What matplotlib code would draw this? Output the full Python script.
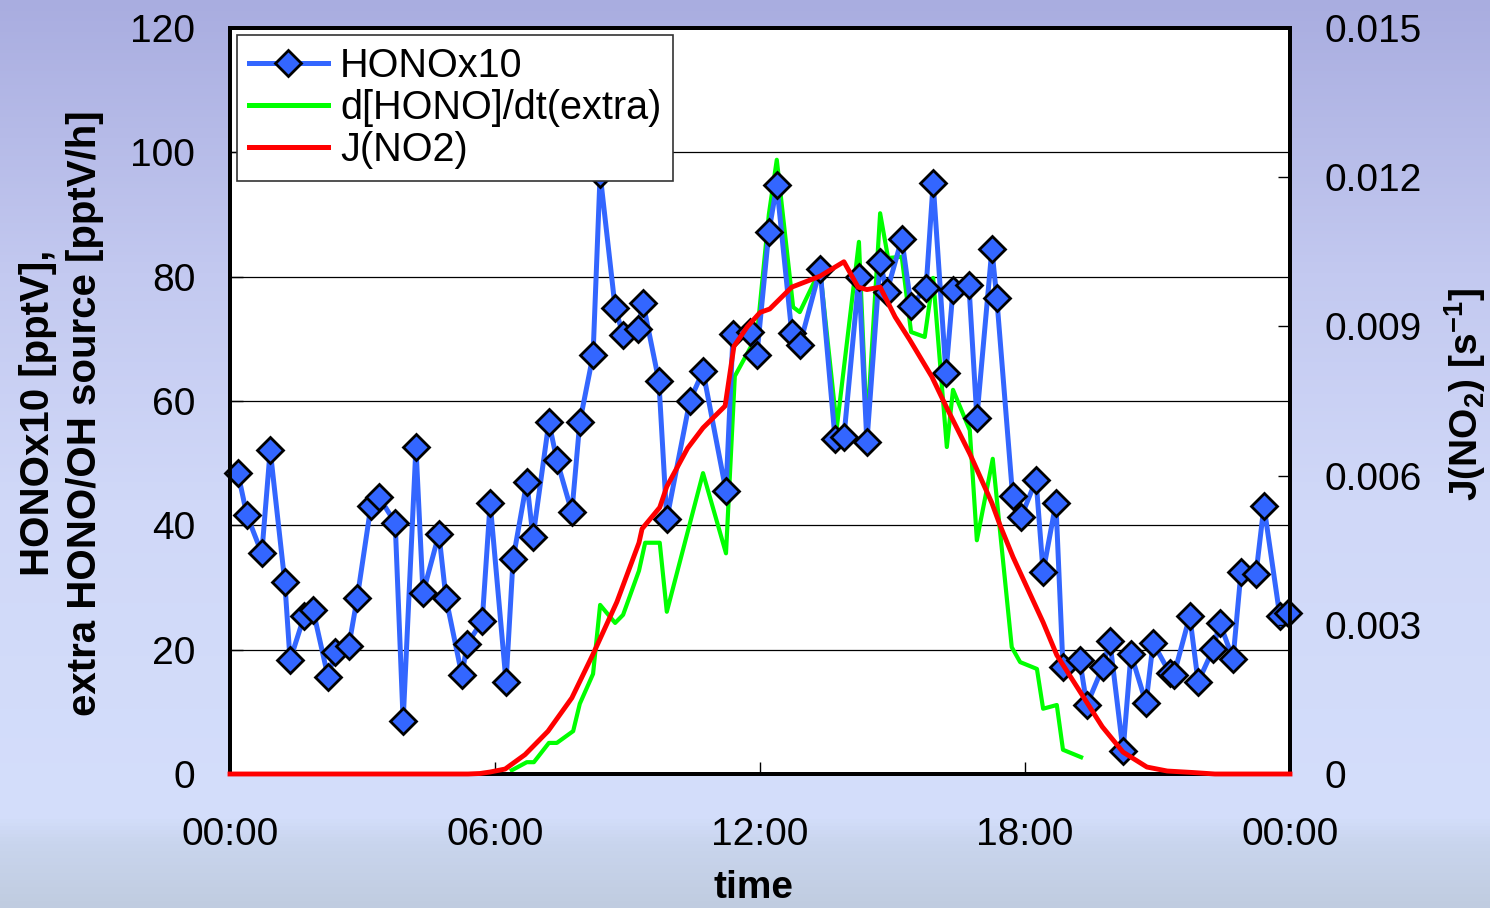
import numpy as np
import matplotlib.pyplot as plt
from matplotlib.colors import LinearSegmentedColormap
from matplotlib.lines import Line2D

plt.rcParams['font.family'] = ['Liberation Sans', 'DejaVu Sans']
plt.rcParams['mathtext.fontset'] = 'custom'
plt.rcParams['mathtext.rm'] = 'Liberation Sans'
plt.rcParams['mathtext.bf'] = 'Liberation Sans:bold'

# HONO x10 [pptV], time in hours
hono_t = [0.18, 0.38, 0.72, 0.91, 1.24, 1.36, 1.68, 1.88, 2.22, 2.38,
          2.69, 2.88, 3.19, 3.37, 3.74, 3.92, 4.21, 4.37, 4.73, 4.89,
          5.25, 5.37, 5.71, 5.89, 6.25, 6.41, 6.72, 6.86, 7.22, 7.40,
          7.74, 7.92, 8.22, 8.38, 8.72, 8.90, 9.24, 9.35, 9.71, 9.89,
          10.41, 10.71, 11.23, 11.39, 11.77, 11.93, 12.20, 12.38, 12.72, 12.90,
          13.36, 13.70, 13.90, 14.24, 14.42, 14.72, 14.87, 15.21, 15.42, 15.76,
          15.92, 16.21, 16.37, 16.73, 16.91, 17.25, 17.36, 17.72, 17.91, 18.25,
          18.41, 18.70, 18.86, 19.24, 19.40, 19.76, 19.92, 20.22, 20.40, 20.74,
          20.90, 21.28, 21.37, 21.73, 21.92, 22.26, 22.41, 22.71, 22.89, 23.23,
          23.41, 23.77, 23.95]
hono_v = [48.4, 41.7, 35.5, 52.1, 30.9, 18.3, 25.4, 26.4, 15.6, 19.6,
          20.6, 28.3, 43.1, 44.6, 40.4, 8.5, 52.6, 29.1, 38.6, 28.3,
          15.9, 20.9, 24.6, 43.6, 14.8, 34.6, 47.0, 38.1, 56.6, 50.5,
          42.1, 56.6, 67.4, 96.5, 75.0, 70.6, 71.6, 75.8, 63.2, 41.0,
          60.0, 64.8, 45.5, 70.8, 71.1, 67.4, 87.2, 94.7, 70.9, 69.0,
          81.2, 53.9, 54.2, 80.0, 53.4, 82.4, 77.5, 86.1, 75.3, 78.2,
          95.1, 64.5, 77.9, 78.7, 57.3, 84.4, 76.6, 44.7, 41.3, 47.3,
          32.5, 43.6, 17.2, 18.3, 11.1, 17.2, 21.4, 3.7, 19.3, 11.4,
          21.1, 16.2, 15.9, 25.4, 14.8, 20.1, 24.3, 18.5, 32.5, 32.2,
          43.1, 25.4, 25.9]

# extra HONO/OH source [pptV/h]
extra_t = [6.38, 6.72, 6.88, 7.22, 7.40, 7.77, 7.92, 8.22, 8.38, 8.72,
           8.90, 9.26, 9.40, 9.73, 9.89, 10.71, 11.23, 11.43, 11.93, 12.20,
           12.38, 12.75, 12.90, 13.36, 13.74, 14.24, 14.42, 14.72, 14.90, 15.21,
           15.42, 15.73, 15.92, 16.23, 16.37, 16.75, 16.91, 17.27, 17.70, 17.89,
           18.27, 18.41, 18.72, 18.86, 19.27]
extra_v = [0.6, 1.9, 1.9, 5.0, 5.0, 6.9, 11.3, 16.1, 27.2, 24.3,
           25.6, 32.7, 37.2, 37.2, 26.1, 48.4, 35.5, 64.0, 70.5, 90.0,
           98.8, 75.1, 74.3, 81.1, 55.8, 85.6, 55.3, 90.2, 83.0, 83.2,
           71.1, 70.3, 79.8, 52.6, 61.8, 55.3, 37.6, 50.7, 20.4, 18.0,
           16.9, 10.5, 11.1, 3.9, 2.7]

# J(NO2) [s-1]
jno2_t = [0.0, 5.39, 5.66, 5.89, 6.23, 6.68, 7.20, 7.74, 8.22, 8.76,
          9.26, 9.33, 9.73, 9.89, 10.36, 10.71, 11.21, 11.41, 11.71, 12.00,
          12.22, 12.72, 13.36, 13.90, 14.22, 14.42, 14.72, 15.06, 15.39, 15.89,
          16.23, 16.75, 17.25, 17.44, 17.73, 18.41, 18.72, 19.25, 19.75, 20.22,
          20.76, 21.22, 21.80, 22.30, 24.0]
jno2_v = [0.0, 0.0, 0.00001, 0.00004, 0.0001, 0.00039, 0.00086, 0.00153, 0.00241, 0.00346,
          0.00465, 0.00493, 0.00536, 0.00578, 0.00655, 0.00696, 0.0074, 0.0086, 0.00899, 0.00928,
          0.00935, 0.00979, 0.01001, 0.0103, 0.00979, 0.00974, 0.00979, 0.00919, 0.00873, 0.00799,
          0.00736, 0.00644, 0.00545, 0.00499, 0.00436, 0.00305, 0.00239, 0.00165, 0.00095, 0.00044,
          0.00014, 0.00006, 0.00003, 0.0, 0.0]

x_ticks = [0, 6, 12, 18, 24]
x_labels = ['00:00', '06:00', '12:00', '18:00', '00:00']

fig = plt.figure(figsize=(14.9, 9.08), dpi=100)

# background gradient
bg = fig.add_axes([0, 0, 1, 1], zorder=-10)
cmap = LinearSegmentedColormap.from_list('bg', [
    (0.0, '#a9ade0'), (0.3, '#c3c9f0'), (0.55, '#d0d8f8'),
    (0.9, '#d4defb'), (0.93, '#c9d5ee'), (1.0, '#c0cce0')])
bg.imshow(np.linspace(0, 1, 256).reshape(-1, 1), aspect='auto', cmap=cmap,
          extent=[0, 1, 0, 1])
bg.axis('off')

ax = fig.add_axes([230 / 1490, 1 - 774 / 908, 1060 / 1490, 746 / 908])
ax.set_facecolor('white')

ax.plot(extra_t, extra_v, color='#00ff00', lw=3, zorder=2)
ax.plot(hono_t, hono_v, color='#3366ff', lw=3.6, marker='D', ms=13.5,
        mfc='#3366ff', mec='black', mew=2, zorder=3, clip_on=False)

ax.set_xlim(0, 24)
ax.set_ylim(0, 120)
ax.set_xticks(x_ticks)
ax.set_xticklabels(x_labels)
ax.set_yticks(range(0, 121, 20))
ax.grid(axis='y', color='black', lw=0.9)
ax.set_axisbelow(True)
ax.tick_params(direction='in', length=9, width=1, labelsize=28, pad=25)
ax.tick_params(axis='x', pad=31)
for s in ax.spines.values():
    s.set_linewidth(2.8)

ax2 = ax.twinx()
ax2.plot(jno2_t, jno2_v, color='#ff0000', lw=3.5, zorder=3, clip_on=False)
ax2.set_ylim(0, 0.015)
ax2.set_yticks([0, 0.003, 0.006, 0.009, 0.012, 0.015])
ax2.set_yticklabels(['0', '0.003', '0.006', '0.009', '0.012', '0.015'])
ax2.tick_params(direction='in', length=9, width=1, labelsize=28, pad=25)
for s in ax2.spines.values():
    s.set_linewidth(2.8)

fig.text(62 / 1490, 1 - 413 / 908,
         'HONOx10 [pptV],\nextra HONO/OH source [pptV/h]',
         rotation=90, ha='center', va='center', ma='center',
         fontsize=29, fontweight='bold', linespacing=1.3)
fig.text(1465 / 1490, 1 - 395 / 908,
         r'J(NO$_\mathbf{2}$) [s$^\mathbf{-1}$]',
         rotation=90, ha='center', va='center', fontsize=28, fontweight='bold')
fig.text(754 / 1490, 1 - 888 / 908, 'time', ha='center', va='center',
         fontsize=28, fontweight='bold')

handles = [
    Line2D([], [], color='#3366ff', lw=3.6, marker='D', ms=13.5,
           mfc='#3366ff', mec='black', mew=2),
    Line2D([], [], color='#00ff00', lw=3.6),
    Line2D([], [], color='#ff0000', lw=3.6),
]
leg = ax.legend(handles, ['HONOx10', 'd[HONO]/dt(extra)', 'J(NO2)'],
                loc='upper left', bbox_to_anchor=(237 / 1490, 1 - 35 / 908),
                bbox_transform=fig.transFigure, fontsize=28.5, frameon=True,
                fancybox=False, edgecolor='#333333', framealpha=1,
                handlelength=2.0, handletextpad=0.3, labelspacing=0.1,
                borderpad=0.3, borderaxespad=0)
leg.get_frame().set_linewidth(1.2)
leg.set_zorder(10)

fig.savefig('out.png', dpi=100)
